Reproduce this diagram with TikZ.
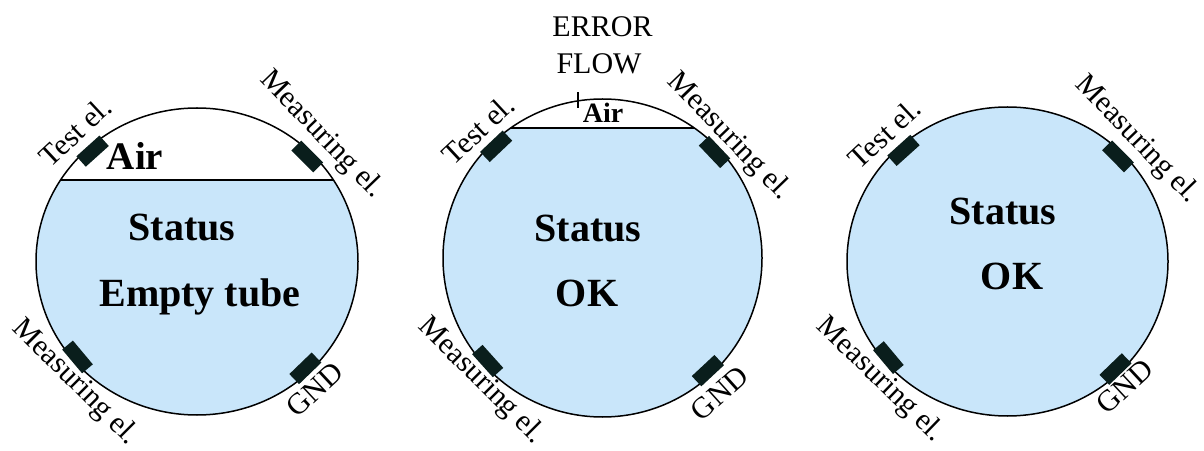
\documentclass[tikz,border=0pt]{standalone}
\usepackage{fontspec}
\setmainfont{Liberation Serif}
\definecolor{water}{RGB}{201,230,250}
\definecolor{electrode}{RGB}{10,30,28}
\tikzset{
  tube/.style={draw=black, line width=1.5pt},
  level/.style={draw=black, line width=1.4pt},
  elec/.style={fill=electrode, draw=none, minimum width=31pt, minimum height=14pt, inner sep=0pt},
  lab/.style={font=\fontsize{30}{30}\selectfont, inner sep=0pt},
  stat/.style={font=\fontsize{40}{40}\selectfont\bfseries, inner sep=0pt, anchor=base},
  airbig/.style={font=\fontsize{39}{39}\selectfont\bfseries, inner sep=0pt, anchor=base},
  airsmall/.style={font=\fontsize{28}{28}\selectfont\bfseries, inner sep=0pt, anchor=base},
  errlab/.style={font=\fontsize{30}{30}\selectfont, inner sep=0pt, anchor=base},
}
\begin{document}
\begin{tikzpicture}[x=1pt,y=1pt]
\useasboundingbox (0,0) rectangle (1204,450);

% ---------------- Circle 1: empty tube ----------------
\begin{scope}[shift={(197,188.5)}]
  \begin{scope}
    \clip (0,0) ellipse [x radius=161, y radius=153.5];
    \fill[water] (-170,-170) rectangle (170,81.5);
  \end{scope}
  \draw[level] (-136.4,81.5) -- (136.4,81.5);
  \draw[tube] (0,0) ellipse [x radius=161, y radius=153.5];
  \node[elec, rotate=222] (a-te) at (132:156 and 148.5) {};
  \node[elec, rotate=135] (a-mt) at (45:156 and 148.5) {};
  \node[elec, rotate=310] (a-mb) at (220:156 and 148.5) {};
  \node[elec, rotate=44]  (a-gn) at (-46:156 and 148.5) {};
  \node[lab, rotate=43]  (a-tel) at (-122,129.5) {Test el.};
  \node[lab, rotate=-46] (a-mtl) at (124.5,126.5) {Measuring el.};
  \node[lab, rotate=-45] (a-mbl) at (-122,-121) {Measuring el.};
  \node[lab, rotate=43]  (a-gnl) at (118,-128) {GND};
  \node[airbig] (a-air) at (-62,91.5) {Air};
  \node[stat] (a-st) at (-15,20.5) {Status};
  \node[stat] (a-et) at (3,-45.2) {Empty tube};
\end{scope}

% ---------------- Circle 2: error flow ----------------
\begin{scope}[shift={(602.5,192)}]
  \begin{scope}
    \clip (0,0) ellipse [x radius=159.5, y radius=159];
    \fill[water] (-170,-170) rectangle (170,130);
  \end{scope}
  \draw[level] (-91.8,130) -- (91.8,130);
  \draw[tube] (0,0) ellipse [x radius=159.5, y radius=159];
  \draw[line width=1.2pt] (-24.5,150) -- (-24.5,166);
  \node[elec, rotate=223.5] (b-te) at (133.5:154.5 and 154) {};
  \node[elec, rotate=133.5] (b-mt) at (43.5:154.5 and 154) {};
  \node[elec, rotate=312]   (b-mb) at (222:154.5 and 154) {};
  \node[elec, rotate=43]    (b-gn) at (-47:154.5 and 154) {};
  \node[lab, rotate=43]  (b-tel) at (-124.5,128) {Test el.};
  \node[lab, rotate=-46] (b-mtl) at (126.5,121) {Measuring el.};
  \node[lab, rotate=-45] (b-mbl) at (-121.5,-123) {Measuring el.};
  \node[lab, rotate=42]  (b-gnl) at (117,-135) {GND};
  \node[airsmall] (b-air) at (0.5,135.3) {Air};
  \node[errlab] (b-err) at (0,221.3) {ERROR};
  \node[errlab] (b-flow) at (-3.5,184.7) {FLOW};
  \node[stat] (b-st) at (-14.5,16.3) {Status};
  \node[stat] (b-ok) at (-15.5,-48.7) {OK};
\end{scope}

% ---------------- Circle 3: full tube ----------------
\begin{scope}[shift={(1007.5,188.5)}]
  \fill[water] (0,0) ellipse [x radius=160.5, y radius=154.5];
  \draw[tube] (0,0) ellipse [x radius=160.5, y radius=154.5];
  \node[elec, rotate=222]   (c-te) at (132:155.5 and 149.5) {};
  \node[elec, rotate=134.7] (c-mt) at (44.7:155.5 and 149.5) {};
  \node[elec, rotate=310]   (c-mb) at (220:155.5 and 149.5) {};
  \node[elec, rotate=44]    (c-gn) at (-46:155.5 and 149.5) {};
  \node[lab, rotate=43]  (c-tel) at (-123,128) {Test el.};
  \node[lab, rotate=-46] (c-mtl) at (129.5,121.5) {Measuring el.};
  \node[lab, rotate=-44] (c-mbl) at (-127.5,-118.5) {Measuring el.};
  \node[lab, rotate=43]  (c-gnl) at (117.5,-125) {GND};
  \node[stat] (c-st) at (-4.5,36.5) {Status};
  \node[stat] (c-ok) at (4.5,-28.5) {OK};
\end{scope}
\end{tikzpicture}
\end{document}
